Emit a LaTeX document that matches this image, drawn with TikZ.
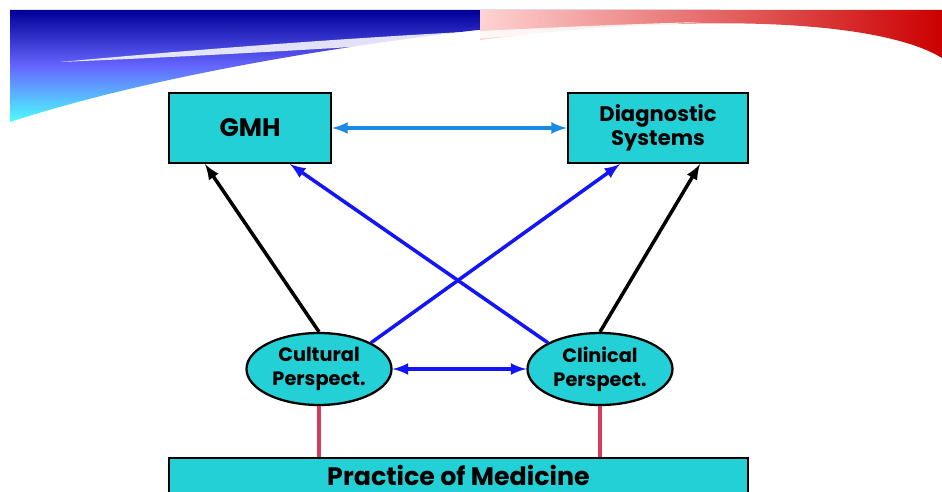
\documentclass[tikz,border=0pt]{standalone}
\usepackage{fontspec}
\setmainfont{Poppins}
\usetikzlibrary{arrows,shapes.geometric}

\begin{document}
\begin{tikzpicture}[x=0.02cm,y=-0.02cm]

\tikzstyle{box1}=[rectangle, draw, line width=1.3pt, fill=cyanbox, font=\bfseries, inner sep=0pt]
\tikzstyle{oval}=[ellipse, draw, line width=1.3pt, fill=cyanbox, font=\bfseries\fontsize{11}{13.5}\selectfont, align=center, minimum width=2.9cm, minimum height=1.44cm, inner sep=0pt]
\tikzstyle{arrow}=[-latex, line width=2pt]
\tikzstyle{biarrow}=[latex-latex, line width=2pt]
\definecolor{cyanbox}{RGB}{34,208,214}
\definecolor{lightarrow}{RGB}{30,136,229}
\definecolor{bluearrow}{RGB}{20,20,250}
\definecolor{redline}{RGB}{214,60,90}

\useasboundingbox (0,0) rectangle (942,492);
\fill[white] (0,0) rectangle (942,492);

% banner
\shade[top color=blue!60!black, bottom color=cyan!70, middle color=blue!60]
  (10,10) -- (720,10) .. controls (500,20) and (200,60) .. (10,122) -- cycle;
\shade[left color=pink!70, right color=red!80!black]
  (480,10) -- (942,10) -- (942,58) .. controls (880,20) and (700,12) .. (480,40) -- cycle;
\fill[white, opacity=0.85] (60,62) .. controls (300,40) and (500,28) .. (700,22)
  .. controls (500,38) and (300,52) .. (60,62) -- cycle;

% nodes
\node (gmh) [box1, minimum width=3.24cm, minimum height=1.4cm, font=\bfseries\Large] at (250,128) {GMH};
\node (diag) [box1, minimum width=3.6cm, minimum height=1.4cm, font=\bfseries\large, align=center] at (658,128) {Diagnostic\\Systems};
\node (cult) [oval] at (319,369) {Cultural\\Perspect.};
\node (clin) [oval] at (600,369) {Clinical\\Perspect.};
\node (prac) [box1, anchor=north, minimum width=11.58cm, minimum height=0.7cm, font=\bfseries\Large] at (458.5,457) {Practice of Medicine};

% connectors
\draw[biarrow, color=lightarrow] (gmh) -- (diag);
\draw[biarrow, color=bluearrow] (cult) -- (clin);
\draw[arrow] (cult.north) -- (gmh.south west -| 205,0);
\draw[arrow] (clin.north) -- (diag.south east -| 700,0);
\draw[arrow, color=bluearrow] (cult.north east) -- (diag.south west -| 620,0);
\draw[arrow, color=bluearrow] (clin.north west) -- (gmh.south east -| 290,0);
\draw[redline, line width=2pt] (cult.south) -- (cult.south |- prac.north);
\draw[redline, line width=2pt] (clin.south) -- (clin.south |- prac.north);

\end{tikzpicture}
\end{document}
